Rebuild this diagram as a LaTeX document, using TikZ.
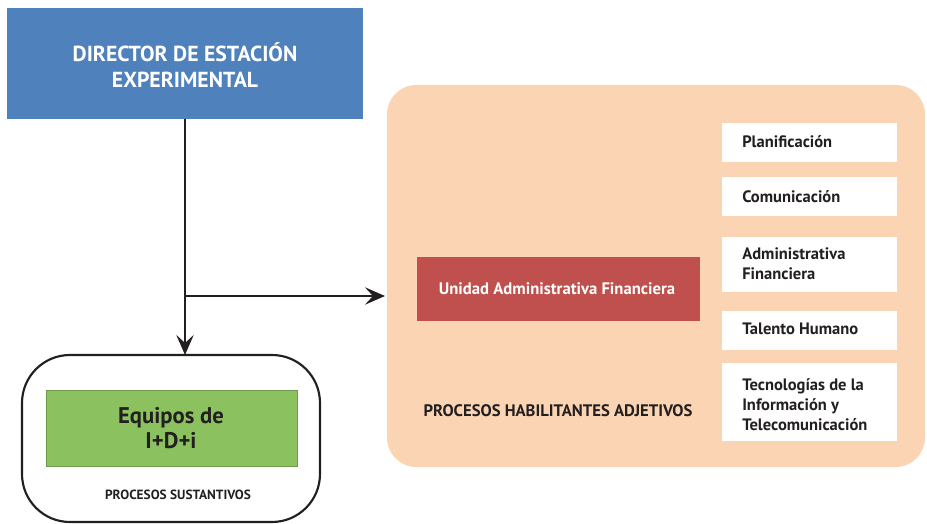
\documentclass[tikz,border=0pt]{standalone}
\usepackage{fontspec}
\setmainfont{PT Sans}
\usetikzlibrary{arrows.meta}
\definecolor{dblue}{HTML}{4F81BD}
\definecolor{dgreen}{HTML}{8CC160}
\definecolor{dred}{HTML}{C0504D}
\definecolor{dpeach}{HTML}{FAD4B3}
\definecolor{dtext}{HTML}{231F20}
\tikzset{
  conn/.style={line width=1.6pt, draw=dtext, -{Stealth[length=15pt,width=13pt,inset=6pt]}},
  whitebox/.style={fill=white, draw=none},
  wtext/.style={font=\bfseries\fontsize{12.4}{15}\selectfont, text=dtext, anchor=west, align=left, inner sep=0pt},
}
\begin{document}
\begin{tikzpicture}[x=0.75pt,y=-0.75pt]
\useasboundingbox (0,0) rectangle (927,524);
% director
\fill[dblue] (7,8) rectangle (363,119);
\node[font=\bfseries\fontsize{16.3}{19.5}\selectfont, text=white, align=center] (dir) at (185,65) {DIRECTOR DE ESTACIÓN\\EXPERIMENTAL};
\coordinate (dirb) at (185,119);
% sustantivos box
\draw[line width=1.6pt, draw=dtext, rounded corners=36pt] (22,355) rectangle (320,522);
\coordinate (sust) at (185,355);
\fill[dgreen] (46,390) rectangle (297,466);
\draw[dgreen!80!black, line width=0.4pt] (46,390) rectangle (297,466);
\node[font=\bfseries\fontsize{17}{19}\selectfont, text=dtext, align=center] (eq) at (171,428) {Equipos de\\I+D+i};
\node[font=\bfseries\fontsize{10}{12}\selectfont, text=dtext] (ps) at (178,495) {PROCESOS SUSTANTIVOS};
% peach panel
\fill[dpeach, rounded corners=22pt] (387,85) rectangle (925,467);
\coordinate (panel) at (385,296);
\fill[dred] (417,257) rectangle (700,321);
\node[font=\bfseries\fontsize{12.5}{14}\selectfont, text=white] (uaf) at (557,289) {Unidad Administrativa Financiera};
\node[font=\bfseries\fontsize{12.5}{14}\selectfont, text=dtext] (pha) at (558,411) {PROCESOS HABILITANTES ADJETIVOS};
% white boxes
\fill[whitebox] (722,123) rectangle (897,162);
\node[wtext] (b1) at (742,142) {Planificación};
\fill[whitebox] (722,177) rectangle (897,216);
\node[wtext] (b2) at (742,197) {Comunicación};
\fill[whitebox] (722,237) rectangle (897,292);
\node[wtext] (b3) at (742,264) {Administrativa\\Financiera};
\fill[whitebox] (722,311) rectangle (897,350);
\node[wtext] (b4) at (742,329) {Talento Humano};
\fill[whitebox] (722,363) rectangle (897,441);
\node[wtext] (b5) at (742,405) {Tecnologías de la\\Información y\\Telecomunicación};
% connectors
\draw[conn] (dirb) -- (sust);
\coordinate (br) at (185,296);
\draw[conn] (br) -- (panel);
\end{tikzpicture}
\end{document}
